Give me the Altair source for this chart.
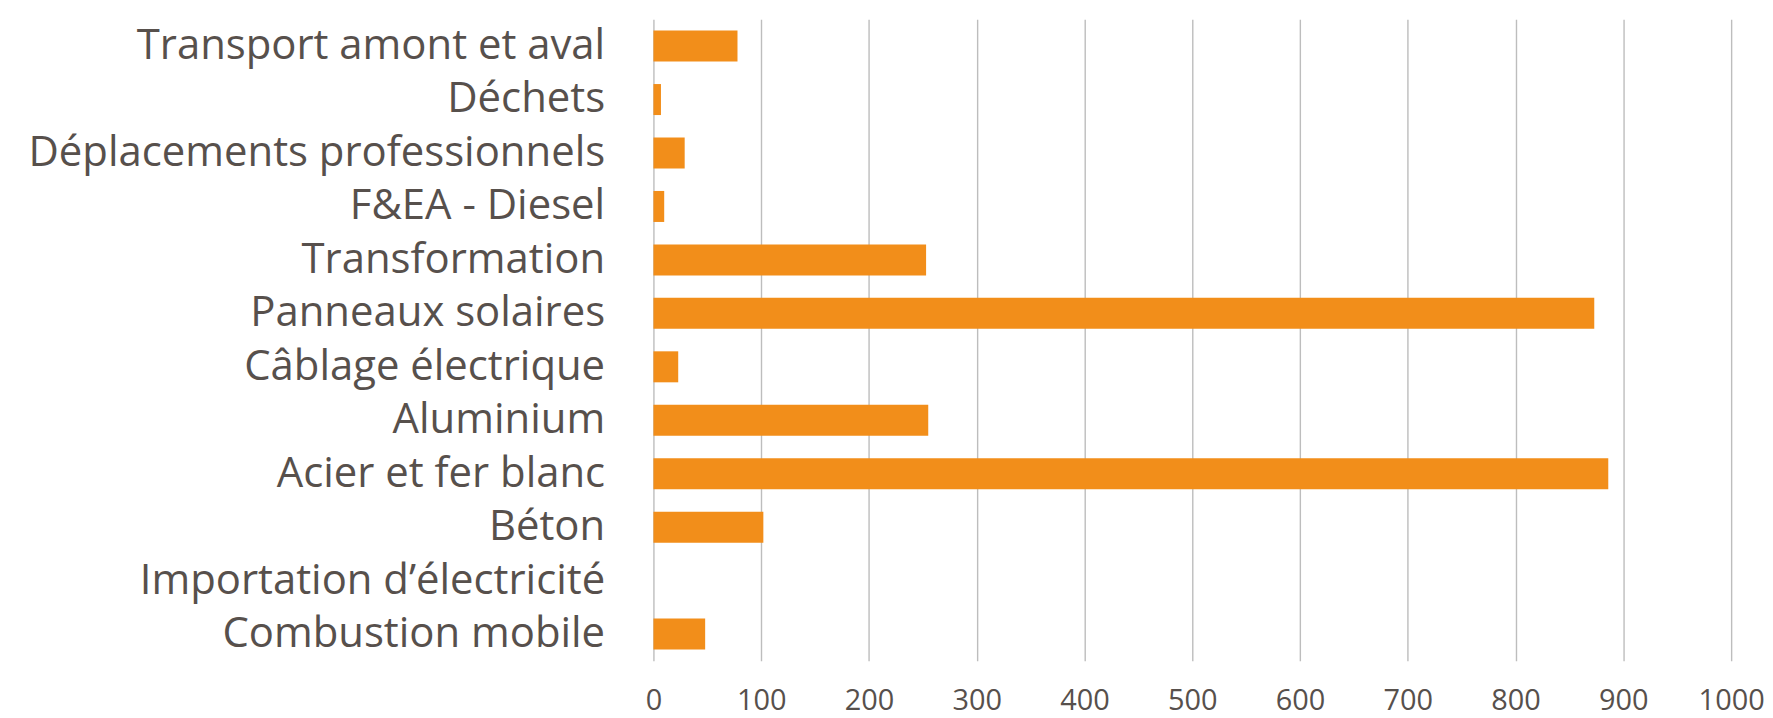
import altair as alt
import pandas as pd

categories = [
    "Transport amont et aval",
    "Déchets",
    "Déplacements professionnels",
    "F&EA - Diesel",
    "Transformation",
    "Panneaux solaires",
    "Câblage électrique",
    "Aluminium",
    "Acier et fer blanc",
    "Béton",
    "Importation d’électricité",
    "Combustion mobile",
]
values = [78, 7, 29, 10, 253, 873, 23, 255, 886, 102, 0, 48]
x_ticks = [0, 100, 200, 300, 400, 500, 600, 700, 800, 900, 1000]

df = pd.DataFrame({"cat": categories, "val": values})

TEXT = "#57504c"

chart = (
    alt.Chart(df)
    .mark_bar(color="#F28E1A")
    .encode(
        y=alt.Y(
            "cat:N",
            sort=categories,
            title=None,
            scale=alt.Scale(paddingInner=0.42, paddingOuter=0.21),
            axis=alt.Axis(
                ticks=False,
                domain=False,
                grid=False,
                labelFont="Open Sans",
                labelFontSize=42,
                labelColor=TEXT,
                labelPadding=49,
                labelLimit=800,
            ),
        ),
        x=alt.X(
            "val:Q",
            title=None,
            scale=alt.Scale(domain=[0, 1000], nice=False),
            axis=alt.Axis(
                values=x_ticks,
                format="d",
                ticks=False,
                domain=False,
                grid=True,
                gridColor="#BDBDBD",
                gridWidth=1.4,
                labelFont="Open Sans",
                labelFontSize=29,
                labelColor=TEXT,
                labelPadding=26,
                labelFlush=False,
            ),
        ),
    )
    .properties(
        width=1082,
        height=644,
        autosize=alt.AutoSizeParams(type="none"),
        padding={"left": 648, "top": 10, "right": 34, "bottom": 56},
    )
    .configure_view(stroke=None)
)

chart.save("out.html", embed_options={"renderer": "svg", "actions": False})
